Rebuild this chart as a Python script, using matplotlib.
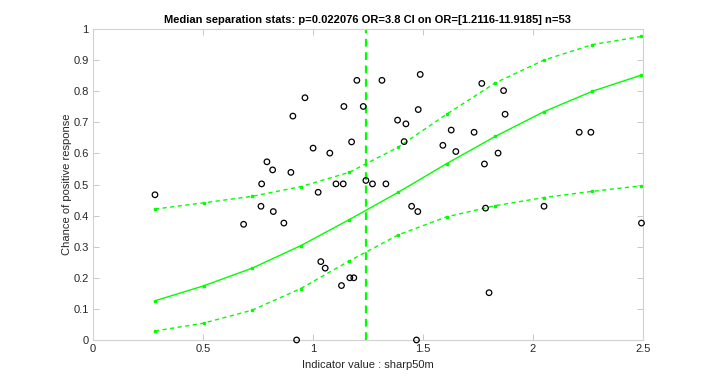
import matplotlib
matplotlib.use("Agg")
import matplotlib.pyplot as plt
import numpy as np

plt.rcParams['font.family'] = ['Liberation Sans', 'DejaVu Sans']

# Scatter data: indicator value vs response
x_pts = [0.282, 0.685, 0.764, 0.767, 0.791, 0.817, 0.820, 0.868, 0.900, 0.909,
         0.926, 0.964, 1.001, 1.024, 1.036, 1.056, 1.077, 1.105, 1.130, 1.138,
         1.141, 1.168, 1.176, 1.186, 1.200, 1.229, 1.241, 1.271, 1.314, 1.332,
         1.385, 1.415, 1.423, 1.449, 1.471, 1.477, 1.479, 1.488, 1.591, 1.629,
         1.650, 1.733, 1.768, 1.780, 1.785, 1.801, 1.842, 1.867, 1.874, 2.051,
         2.211, 2.264, 2.494]
y_pts = [0.467, 0.372, 0.430, 0.502, 0.573, 0.547, 0.413, 0.376, 0.539, 0.720,
         0.0, 0.779, 0.617, 0.475, 0.252, 0.231, 0.601, 0.502, 0.175, 0.502,
         0.751, 0.200, 0.637, 0.200, 0.835, 0.751, 0.513, 0.502, 0.835, 0.502,
         0.707, 0.638, 0.695, 0.430, 0.0, 0.413, 0.741, 0.854, 0.626, 0.675,
         0.606, 0.668, 0.825, 0.566, 0.424, 0.152, 0.601, 0.802, 0.726, 0.430,
         0.668, 0.668, 0.376]

# Fitted curve and confidence bounds
x_fit = [0.282, 0.503, 0.724, 0.944, 1.165, 1.388, 1.608, 1.830, 2.050, 2.271, 2.494]
y_fit = [0.126, 0.174, 0.231, 0.303, 0.387, 0.475, 0.567, 0.655, 0.734, 0.800, 0.852]
y_upper = [0.421, 0.441, 0.462, 0.493, 0.539, 0.620, 0.726, 0.827, 0.900, 0.950, 0.976]
y_lower = [0.029, 0.054, 0.096, 0.165, 0.254, 0.338, 0.396, 0.432, 0.458, 0.478, 0.496]

median_x = 1.241

title = "Median separation stats: p=0.022076 OR=3.8 CI on OR=[1.2116-11.9185] n=53"
xlabel = "Indicator value : sharp50m"
ylabel = "Chance of positive response"
x_ticks = [0, 0.5, 1, 1.5, 2, 2.5]
x_ticklabels = ["0", "0.5", "1", "1.5", "2", "2.5"]
y_ticks = [0, 0.1, 0.2, 0.3, 0.4, 0.5, 0.6, 0.7, 0.8, 0.9, 1]
y_ticklabels = ["0", "0.1", "0.2", "0.3", "0.4", "0.5", "0.6", "0.7", "0.8", "0.9", "1"]

fig = plt.figure(figsize=(7.15, 3.82), dpi=100)
ax = fig.add_axes([0.130, 0.110, 0.769, 0.814])

green = (0, 1, 0)
ax.plot(x_fit, y_fit, '-', color=green, lw=1.0, marker='s', ms=2.0, mfc=green, mec=green)
ax.plot(x_fit, y_upper, '--', color=green, lw=1.0, marker='s', ms=2.0, mfc=green, mec=green,
        dashes=(3, 2.5))
ax.plot(x_fit, y_lower, '--', color=green, lw=1.0, marker='s', ms=2.0, mfc=green, mec=green,
        dashes=(3, 2.5))
ax.axvline(median_x, color=green, lw=1.6, ls='--', dashes=(3.5, 2.5))
ax.scatter(x_pts, y_pts, s=16, facecolors='none', edgecolors='black', linewidths=0.9,
           zorder=3, clip_on=False)

ax.set_xlim(0, 2.5)
ax.set_ylim(0, 1)
ax.set_xticks(x_ticks)
ax.set_xticklabels(x_ticklabels)
ax.set_yticks(y_ticks)
ax.set_yticklabels(y_ticklabels)

tick_col = (0.15, 0.15, 0.15)
ax.tick_params(direction='in', length=4, width=0.6, color=(0.75, 0.75, 0.75),
               labelsize=8, labelcolor=tick_col, top=True, right=True, pad=3)
for sp in ax.spines.values():
    sp.set_color((0.82, 0.82, 0.82))
    sp.set_linewidth(0.8)

ax.set_xlabel(xlabel, fontsize=8, color=tick_col, labelpad=4)
ax.set_ylabel(ylabel, fontsize=8, color=tick_col, labelpad=1)
ax.set_title(title, fontsize=8, fontweight='bold', color='black', pad=4)

fig.savefig("out.png", dpi=100)
